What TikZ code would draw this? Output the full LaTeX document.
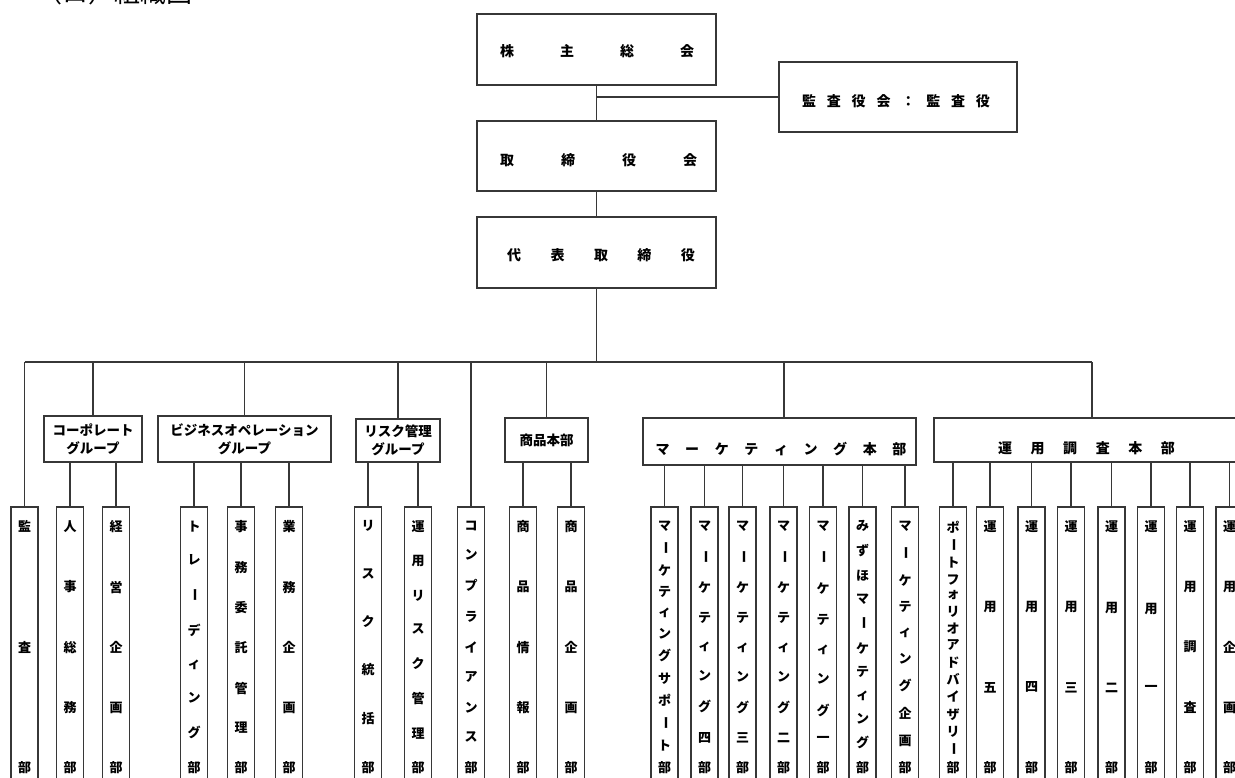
\documentclass[tikz,border=0pt]{standalone}
\usepackage{graphicx}
\usepackage{fontspec}
\setmainfont{Noto Sans CJK JP}
\definecolor{lc}{RGB}{55,55,55}
\makeatletter
\newif\ifjfirst
\def\jchoon{ー}
% vertical, evenly spread characters
\newcommand\jv[2]{\vbox to #1{\offinterlineskip\jfirsttrue\@tfor\jc:=#2\do{\ifjfirst\jfirstfalse\else\vfill\fi\hbox to 1em{\hss\ifx\jc\jchoon\rotatebox[origin=c]{-90}{ー}\else\jc\fi\hss}}}}
% horizontal, evenly spread characters
\newcommand\jh[2]{\hbox to #1{\jfirsttrue\@tfor\jc:=#2\do{\ifjfirst\jfirstfalse\else\hfill\fi\jc}}}
\makeatother
\tikzset{
  frame/.style={draw=lc, line width=1.8pt, inner sep=0pt, fill=white},
  vframe/.style={frame, minimum width=27pt, minimum height=320pt, anchor=north},
  link/.style={draw=lc, line width=1.8pt},
  ttl/.style={font=\bfseries\fontsize{14}{14}\selectfont, inner sep=0pt},
  gtxt/.style={font=\bfseries\fontsize{13.5}{18}\selectfont, align=center},
  vt/.style={font=\bfseries\fontsize{13}{13}\selectfont, inner sep=0pt, anchor=north},
}
\newcommand\vunit[3]{%
  \node[vframe] (#1) at (#2,506) {};
  \node[vt] (#1t) at (#2,520.5) {\jv{252pt}{#3}};
}
\begin{document}
\begin{tikzpicture}[x=1pt,y=-1pt]
\useasboundingbox (0,0) rectangle (1235,778);
\clip (0,0) rectangle (1235,778);

\node[font=\fontsize{26}{26}\selectfont, anchor=base west, inner sep=0pt] (title) at (36,3) {（ロ）組織図};

% top boxes
\node[frame, minimum width=239pt, minimum height=71pt] (gm) at (596.5,49.5) {};
\node[ttl] (gmt) at (597,51) {\jh{194pt}{株主総会}};
\node[frame, minimum width=238pt, minimum height=70pt] (aud) at (898,97) {};
\node[ttl] (audt) at (896,101) {\jh{188pt}{監査役会：監査役}};
\node[frame, minimum width=239pt, minimum height=70pt] (bod) at (596.5,156) {};
\node[ttl] (bodt) at (598.5,160) {\jh{197pt}{取締役会}};
\node[frame, minimum width=239pt, minimum height=71pt] (rep) at (596.5,252.5) {};
\node[ttl] (rept) at (601,255) {\jh{188pt}{代表取締役}};

\draw[link] (gm.south) -- (bod.north);
\draw[link] (gm.south |- aud.west) -- (aud.west);
\draw[link] (bod.south) -- (rep.north);

% bus
\coordinate (bL) at (24.5,362);
\coordinate (bR) at (1092,362);
\draw[link] (rep.south) -- (rep.south |- bL);
\draw[link] (bL) -- (bR);

% group boxes
\node[frame, gtxt, minimum width=98pt, minimum height=46pt] (gc) at (93,439) {コーポレート\\グループ};
\node[frame, gtxt, minimum width=173pt, minimum height=46pt] (gb) at (244.5,439) {ビジネスオペレーション\\グループ};
\node[frame, gtxt, minimum width=84pt, minimum height=43pt] (gr) at (398,440.5) {リスク管理\\グループ};
\node[frame, gtxt, minimum width=83pt, minimum height=44pt] (gs) at (546.5,440) {商品本部};
\node[frame, minimum width=273pt, minimum height=47pt] (gk) at (779.5,441.5) {};
\node[ttl] (gkt) at (781,449) {\jh{251pt}{マーケティング本部}};
\node[frame, minimum width=316pt, minimum height=44pt] (gu) at (1092,440) {};
\node[ttl] (gut) at (1086.5,448) {\jh{177pt}{運用調査本部}};

% vertical units
\vunit{k1}{24.5}{監査部}
\vunit{c1}{70}{人事総務部}
\vunit{c2}{116}{経営企画部}
\vunit{b1}{194}{トレーディング部}
\vunit{b2}{241}{事務委託管理部}
\vunit{b3}{289}{業務企画部}
\vunit{r1}{368}{リスク統括部}
\vunit{r2}{418}{運用リスク管理部}
\vunit{cp}{471}{コンプライアンス部}
\vunit{s1}{523}{商品情報部}
\vunit{s2}{571}{商品企画部}
\vunit{m1}{664.5}{マーケティングサポート部}
\vunit{m2}{704.5}{マーケティング四部}
\vunit{m3}{742.5}{マーケティング三部}
\vunit{m4}{783.5}{マーケティング二部}
\vunit{m5}{823}{マーケティング一部}
\vunit{m6}{862.5}{みずほマーケティング部}
\vunit{m7}{905}{マーケティング企画部}
\vunit{u1}{953}{ポートフォリオアドバイザリー部}
\vunit{u2}{990}{運用五部}
\vunit{u3}{1031.5}{運用四部}
\vunit{u4}{1071}{運用三部}
\vunit{u5}{1111.5}{運用二部}
\vunit{u6}{1151}{運用一部}
\vunit{u7}{1190}{運用調査部}
\vunit{u8}{1229.5}{運用企画部}

% drops from the bus
\draw[link] (bL) -- (k1.north);
\draw[link] (gc.north |- bL) -- (gc.north);
\draw[link] (gb.north |- bL) -- (gb.north);
\draw[link] (gr.north |- bL) -- (gr.north);
\draw[link] (cp.north |- bL) -- (cp.north);
\draw[link] (gs.north |- bL) -- (gs.north);
\coordinate (dk) at (784,362);
\draw[link] (dk) -- (dk |- gk.north);
\draw[link] (gu.north |- bL) -- (gu.north);

% group to units
\foreach \g/\u in {gc/c1,gc/c2,gb/b1,gb/b2,gb/b3,gr/r1,gr/r2,gs/s1,gs/s2,
  gk/m1,gk/m2,gk/m3,gk/m4,gk/m5,gk/m6,gk/m7,
  gu/u1,gu/u2,gu/u3,gu/u4,gu/u5,gu/u6,gu/u7,gu/u8}
  \draw[link] (\g.south -| \u.north) -- (\u.north);
\end{tikzpicture}
\end{document}
